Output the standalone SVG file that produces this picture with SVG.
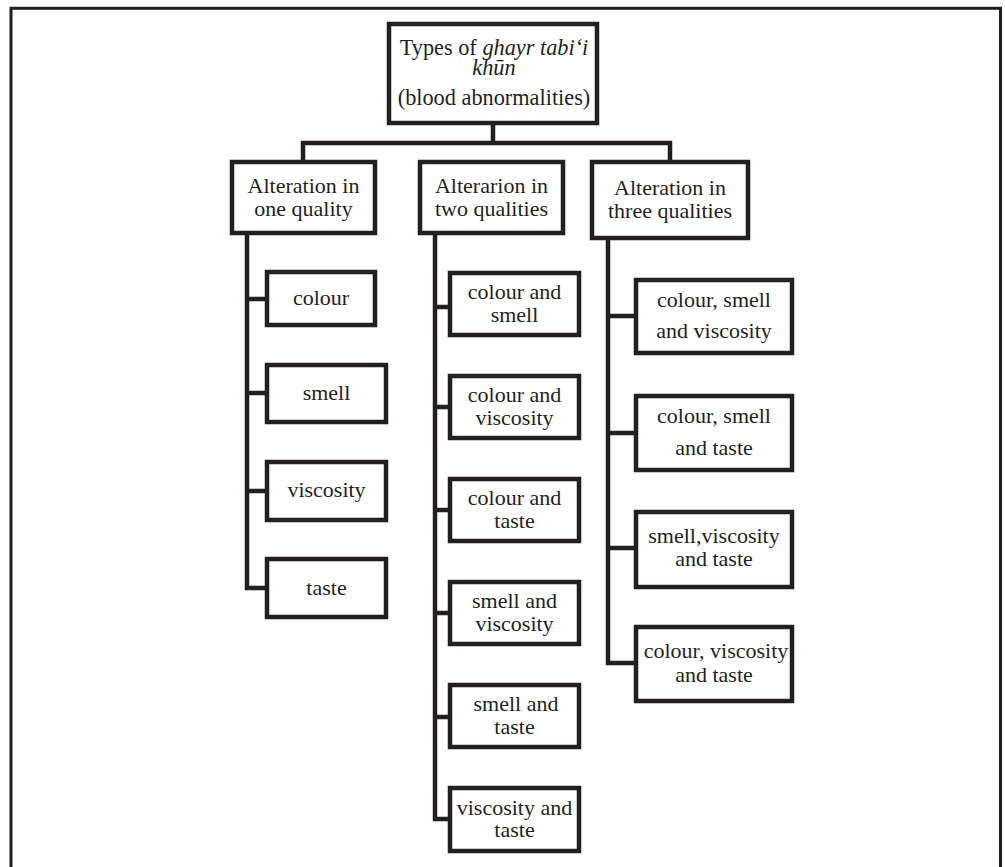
<svg xmlns="http://www.w3.org/2000/svg" width="1005" height="867" viewBox="0 0 1005 867">
<style>
.box{fill:#fff;stroke:#231f20;stroke-width:4.5}
.c{fill:none;stroke:#231f20;stroke-width:4.5;stroke-linejoin:miter}
text{font-family:"Liberation Serif","Times New Roman",serif;font-size:22px;fill:#231f20;text-anchor:middle}
.i{font-style:italic}
.t{font-size:22.3px}
</style>
<rect x="0" y="0" width="1005" height="867" fill="#fff"/>
<rect x="11" y="8.3" width="989.5" height="900" fill="none" stroke="#231f20" stroke-width="3"/>
<g id="connectors">
<path class="c" d="M493 124 V143 M303 162 V143 H670 V162"/>
<path class="c" d="M247 233 V588 H267 M247 299 H267 M247 393 H267 M247 491 H267"/>
<path class="c" d="M435 233 V819 H450 M435 307 H450 M435 407 H450 M435 510 H450 M435 613 H450 M435 717 H450"/>
<path class="c" d="M608 238 V663 H636 M608 316 H636 M608 433 H636 M608 548 H636"/>
</g>
<g id="root">
<rect class="box" x="389" y="24" width="208" height="99"/>
<text x="494" y="54.5" class="t">Types of <tspan class="i">ghayr tabi‘i</tspan></text>
<text x="494" y="74.5" class="t i">khūn</text>
<text x="494" y="105" class="t">(blood abnormalities)</text>
</g>
<g id="one">
<rect class="box" x="232" y="162" width="143" height="71"/>
<text x="303.5" y="193">Alteration in</text>
<text x="303.5" y="216">one quality</text>
</g>
<g id="two">
<rect class="box" x="420" y="162" width="143" height="71"/>
<text x="491.5" y="193">Alterarion in</text>
<text x="491.5" y="216">two qualities</text>
</g>
<g id="three">
<rect class="box" x="592" y="162" width="156" height="76"/>
<text x="670" y="195">Alteration in</text>
<text x="670" y="218">three qualities</text>
</g>
<g id="c1-colour">
<rect class="box" x="267" y="272" width="108" height="53"/>
<text x="321" y="305">colour</text>
</g>
<g id="c1-smell">
<rect class="box" x="267" y="365" width="119" height="57"/>
<text x="326.5" y="400">smell</text>
</g>
<g id="c1-viscosity">
<rect class="box" x="267" y="462" width="119" height="58"/>
<text x="326.5" y="497">viscosity</text>
</g>
<g id="c1-taste">
<rect class="box" x="267" y="559" width="119" height="58"/>
<text x="326.5" y="595">taste</text>
</g>
<g id="c2-colour-smell">
<rect class="box" x="450" y="273" width="129" height="62"/>
<text x="514.5" y="299">colour and</text>
<text x="514.5" y="322">smell</text>
</g>
<g id="c2-colour-viscosity">
<rect class="box" x="450" y="376" width="129" height="62"/>
<text x="514.5" y="402">colour and</text>
<text x="514.5" y="425">viscosity</text>
</g>
<g id="c2-colour-taste">
<rect class="box" x="450" y="479" width="129" height="62"/>
<text x="514.5" y="505">colour and</text>
<text x="514.5" y="528">taste</text>
</g>
<g id="c2-smell-viscosity">
<rect class="box" x="450" y="582" width="129" height="62"/>
<text x="514.5" y="608">smell and</text>
<text x="514.5" y="631">viscosity</text>
</g>
<g id="c2-smell-taste">
<rect class="box" x="450" y="685" width="129" height="62"/>
<text x="516" y="711">smell and</text>
<text x="514.5" y="734">taste</text>
</g>
<g id="c2-viscosity-taste">
<rect class="box" x="450" y="788" width="129" height="63"/>
<text x="514.5" y="815">viscosity and</text>
<text x="514.5" y="837">taste</text>
</g>
<g id="c3-csv">
<rect class="box" x="636" y="280" width="156" height="73"/>
<text x="714" y="307">colour, smell</text>
<text x="714" y="338">and viscosity</text>
</g>
<g id="c3-cst">
<rect class="box" x="636" y="396" width="156" height="74"/>
<text x="714" y="423">colour, smell</text>
<text x="714" y="455">and taste</text>
</g>
<g id="c3-svt">
<rect class="box" x="636" y="512" width="156" height="75"/>
<text x="714" y="543">smell,viscosity</text>
<text x="714" y="566">and taste</text>
</g>
<g id="c3-cvt">
<rect class="box" x="636" y="627" width="156" height="74"/>
<text x="716" y="658">colour, viscosity</text>
<text x="714" y="682">and taste</text>
</g>
</svg>
